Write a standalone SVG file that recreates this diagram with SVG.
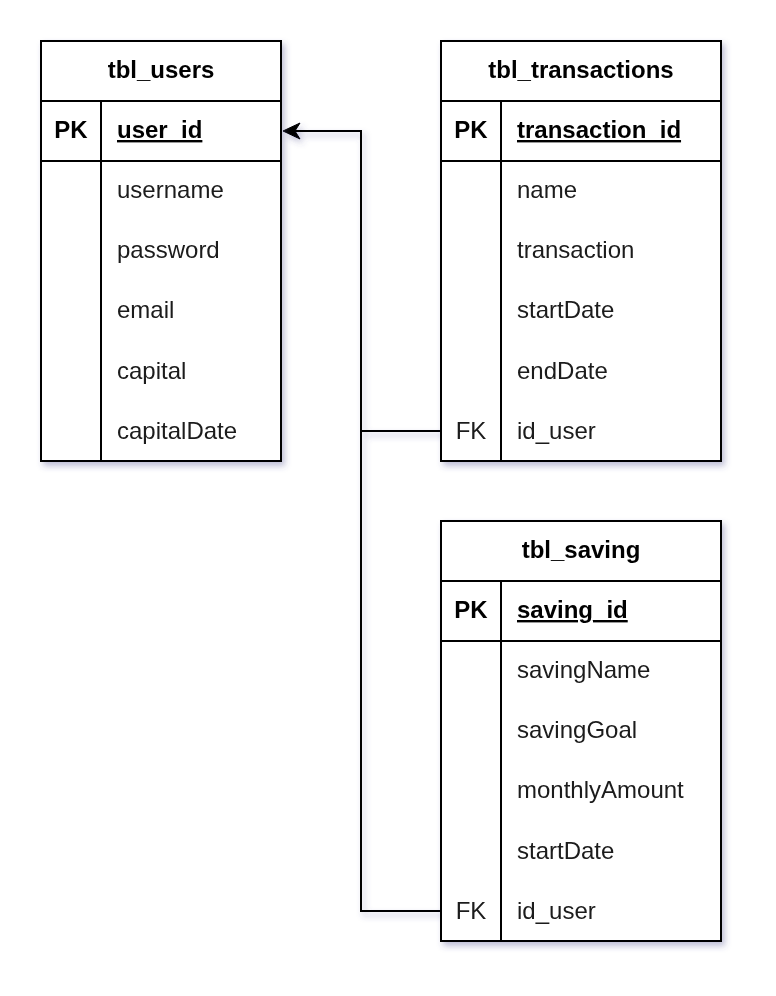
<svg xmlns="http://www.w3.org/2000/svg" width="776" height="996" viewBox="0 0 776 996">
  <defs>
    <filter id="sh" x="-10%" y="-10%" width="130%" height="130%">
      <feDropShadow dx="3" dy="4" stdDeviation="3" flood-color="#4a4a8a" flood-opacity="0.35"/>
    </filter>
  </defs>
  <style>
    .box { fill: #fff; stroke: #000; stroke-width: 2; }
    .ln { stroke: #000; stroke-width: 2; fill: none; }
    .ah { fill: #000; stroke: #000; stroke-width: 1; stroke-linejoin: miter; }
    text { font-family: "Liberation Sans", Arial, sans-serif; font-size: 24px; fill: #1a1a1a; }
    .h { font-weight: bold; text-anchor: middle; fill: #000; }
    .pk { font-weight: bold; text-decoration: underline; fill: #000; }
    .k { text-anchor: middle; }
  </style>
  <rect width="776" height="996" fill="#fff"/>

  <g id="connectors" filter="url(#sh)">
    <path class="ln" d="M441,431 H361 V131 H292"/>
    <path class="ah" d="M283,131 L300,123 L295,131 L300,139 Z"/>
    <path class="ln" d="M441,911 H361 V431"/>
  </g>

  <g id="tbl_users" filter="url(#sh)">
    <rect class="box" x="41" y="41" width="240" height="420"/>
    <line class="ln" x1="41" y1="101" x2="281" y2="101"/>
    <line class="ln" x1="41" y1="161" x2="281" y2="161"/>
    <line class="ln" x1="101" y1="101" x2="101" y2="461"/>
    <text class="h" x="161" y="78">tbl_users</text>
    <text class="h" x="71" y="138">PK</text>
    <text class="pk" x="117" y="138">user_id</text>
    <text x="117" y="198">username</text>
    <text x="117" y="258">password</text>
    <text x="117" y="318">email</text>
    <text x="117" y="379">capital</text>
    <text x="117" y="439">capitalDate</text>
  </g>

  <g id="tbl_transactions" filter="url(#sh)">
    <rect class="box" x="441" y="41" width="280" height="420"/>
    <line class="ln" x1="441" y1="101" x2="721" y2="101"/>
    <line class="ln" x1="441" y1="161" x2="721" y2="161"/>
    <line class="ln" x1="501" y1="101" x2="501" y2="461"/>
    <text class="h" x="581" y="78">tbl_transactions</text>
    <text class="h" x="471" y="138">PK</text>
    <text class="pk" x="517" y="138">transaction_id</text>
    <text x="517" y="198">name</text>
    <text x="517" y="258">transaction</text>
    <text x="517" y="318">startDate</text>
    <text x="517" y="379">endDate</text>
    <text class="k" x="471" y="439">FK</text>
    <text x="517" y="439">id_user</text>
  </g>

  <g id="tbl_saving" filter="url(#sh)">
    <rect class="box" x="441" y="521" width="280" height="420"/>
    <line class="ln" x1="441" y1="581" x2="721" y2="581"/>
    <line class="ln" x1="441" y1="641" x2="721" y2="641"/>
    <line class="ln" x1="501" y1="581" x2="501" y2="941"/>
    <text class="h" x="581" y="558">tbl_saving</text>
    <text class="h" x="471" y="618">PK</text>
    <text class="pk" x="517" y="618">saving_id</text>
    <text x="517" y="678">savingName</text>
    <text x="517" y="738">savingGoal</text>
    <text x="517" y="798">monthlyAmount</text>
    <text x="517" y="859">startDate</text>
    <text class="k" x="471" y="919">FK</text>
    <text x="517" y="919">id_user</text>
  </g>
</svg>
